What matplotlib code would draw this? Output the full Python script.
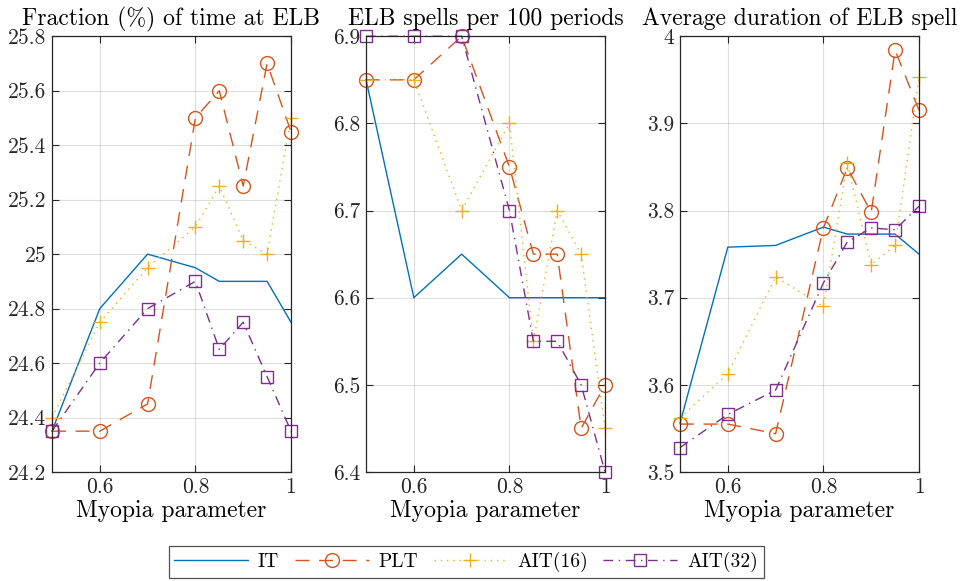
import matplotlib
matplotlib.use("Agg")
import matplotlib.pyplot as plt
from matplotlib.lines import Line2D

plt.rcParams["font.family"] = "cmr10"
plt.rcParams["mathtext.fontset"] = "cm"
plt.rcParams["axes.formatter.use_mathtext"] = True

# Myopia parameter grid
myopia = [0.5, 0.6, 0.7, 0.8, 0.85, 0.9, 0.95, 1.0]

# Fraction (%) of time at ELB
frac_it = [24.35, 24.8, 25.0, 24.95, 24.9, 24.9, 24.9, 24.75]
frac_plt = [24.35, 24.35, 24.45, 25.5, 25.6, 25.25, 25.7, 25.45]
frac_ait16 = [24.4, 24.75, 24.95, 25.1, 25.25, 25.05, 25.0, 25.5]
frac_ait32 = [24.35, 24.6, 24.8, 24.9, 24.65, 24.75, 24.55, 24.35]

# ELB spells per 100 periods
spells_it = [6.85, 6.6, 6.65, 6.6, 6.6, 6.6, 6.6, 6.6]
spells_plt = [6.85, 6.85, 6.9, 6.75, 6.65, 6.65, 6.45, 6.5]
spells_ait16 = [6.85, 6.85, 6.7, 6.8, 6.55, 6.7, 6.65, 6.45]
spells_ait32 = [6.9, 6.9, 6.9, 6.7, 6.55, 6.55, 6.5, 6.4]

# Average duration of ELB spell
dur_it = [3.556, 3.758, 3.760, 3.781, 3.773, 3.773, 3.773, 3.750]
dur_plt = [3.555, 3.555, 3.544, 3.780, 3.849, 3.798, 3.984, 3.915]
dur_ait16 = [3.562, 3.613, 3.724, 3.690, 3.854, 3.738, 3.760, 3.953]
dur_ait32 = [3.528, 3.566, 3.594, 3.717, 3.764, 3.780, 3.778, 3.805]

labels = ["IT", "PLT", "AIT(16)", "AIT(32)"]
titles = ["Fraction (%) of time at ELB", "ELB spells per 100 periods",
          "Average duration of ELB spell"]
yticks = [
    [24.2, 24.4, 24.6, 24.8, 25.0, 25.2, 25.4, 25.6, 25.8],
    [6.4, 6.5, 6.6, 6.7, 6.8, 6.9],
    [3.5, 3.6, 3.7, 3.8, 3.9, 4.0],
]
xticks = [0.6, 0.8, 1.0]

panels = [
    [frac_it, frac_plt, frac_ait16, frac_ait32],
    [spells_it, spells_plt, spells_ait16, spells_ait32],
    [dur_it, dur_plt, dur_ait16, dur_ait32],
]

styles = [
    dict(color="#0072BD", linestyle="-", marker=None),
    dict(color="#D95319", dashes=(10, 7), marker="o"),
    dict(color="#EDB120", dashes=(1, 3.5), marker="+"),
    dict(color="#7E2F8E", dashes=(7, 4, 1, 4), marker="s"),
]

fig = plt.figure(figsize=(9.61, 5.81), dpi=100)
lefts = [0.0541, 0.3809, 0.7076]
width = 0.2487
bottom = 0.1876
height = 0.750
axis_col = "#262626"

for left, series, title, yt in zip(lefts, panels, titles, yticks):
    ax = fig.add_axes([left, bottom, width, height])
    for vals, st, lab in zip(series, styles, labels):
        kw = dict(color=st["color"], linewidth=1.0, label=lab, clip_on=False)
        if "dashes" in st:
            kw["dashes"] = st["dashes"]
        else:
            kw["linestyle"] = st["linestyle"]
        if st["marker"]:
            kw.update(marker=st["marker"], markersize=10 if st["marker"] != "s" else 9,
                      markerfacecolor="none", markeredgecolor=st["color"],
                      markeredgewidth=1.0)
        ax.plot(myopia, vals, **kw)
    ax.set_xlim(0.5, 1.0)
    ax.set_ylim(yt[0], yt[-1])
    ax.set_xticks(xticks)
    ax.set_xticklabels(["%g" % v for v in xticks])
    ax.set_yticks(yt)
    ax.set_yticklabels(["%g" % v for v in yt])
    ax.grid(True, color=axis_col, alpha=0.15, linewidth=0.8)
    ax.tick_params(direction="in", top=True, right=True, length=5,
                   width=0.8, colors=axis_col, labelsize=15.5, pad=4)
    for sp in ax.spines.values():
        sp.set_color(axis_col)
        sp.set_linewidth(0.9)
    ax.set_title(title, fontsize=17, pad=8)
    ax.set_xlabel("Myopia parameter", fontsize=17, labelpad=2)

handles = []
for st, lab in zip(styles, labels):
    kw = dict(color=st["color"], linewidth=1.0)
    if "dashes" in st:
        kw["dashes"] = st["dashes"]
    if st["marker"]:
        kw.update(marker=st["marker"], markersize=10 if st["marker"] != "s" else 9,
                  markerfacecolor="none", markeredgecolor=st["color"])
    handles.append(Line2D([], [], label=lab, **kw))

leg = fig.legend(handles=handles, loc="center", bbox_to_anchor=(0.485, 0.033),
                 ncol=4, fontsize=14, frameon=True, fancybox=False,
                 handlelength=3.8, columnspacing=0.8, handletextpad=0.5,
                 borderpad=0.3, edgecolor="#262626")
leg.get_frame().set_linewidth(0.9)

fig.savefig("out.png", dpi=100)
